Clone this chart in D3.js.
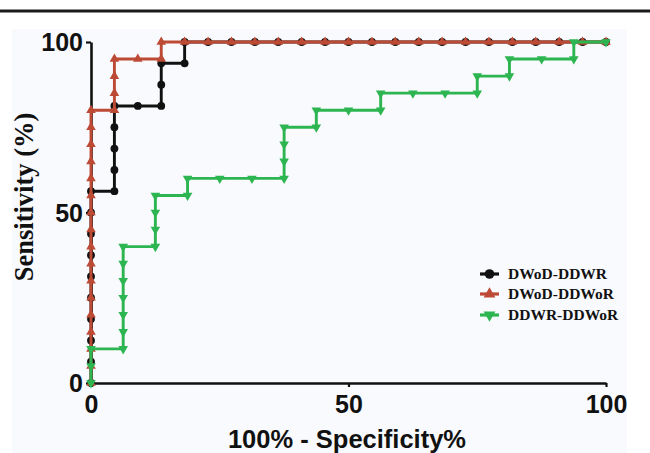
<!DOCTYPE html>
<html>
<head>
<meta charset="utf-8">
<script src="https://cdn.jsdelivr.net/npm/d3@7"></script>
<style>
  html, body { margin: 0; padding: 0; background: #ffffff; }
  svg { display: block; }
</style>
</head>
<body>
<svg id="chart" width="650" height="453"></svg>
<script>
// ---- Data ----
const xTicks = [0, 50, 100];
const yTicks = [0, 50, 100];

const seriesNames = ["DWoD-DDWR", "DWoD-DDWoR", "DDWR-DDWoR"];

// DWoD-DDWR (black circles)
const blackX = [0, 0, 0, 0, 0, 0, 0, 0, 0, 0,
  4.545, 4.545, 4.545, 4.545, 4.545,
  9.091,
  13.64, 13.64, 13.64,
  18.18, 18.18,
  22.73, 27.27, 31.82, 36.36, 40.91, 45.45, 50, 54.55, 59.09, 63.64,
  68.18, 72.73, 77.27, 81.82, 86.36, 90.91, 95.45, 100];
const blackY = [0, 6.25, 12.5, 18.75, 25, 31.25, 37.5, 43.75, 50, 56.25,
  56.25, 62.5, 68.75, 75, 81.25,
  81.25,
  81.25, 87.5, 93.75,
  93.75, 100,
  100, 100, 100, 100, 100, 100, 100, 100, 100, 100,
  100, 100, 100, 100, 100, 100, 100, 100];

// DWoD-DDWoR (red triangles)
const redX = [0, 0, 0, 0, 0, 0, 0, 0, 0, 0, 0, 0, 0, 0, 0, 0, 0,
  4.545, 4.545, 4.545, 4.545,
  9.091,
  13.64, 13.64,
  18.18, 22.73, 27.27, 31.82, 36.36, 40.91, 45.45, 50, 54.55, 59.09, 63.64,
  68.18, 72.73, 77.27, 81.82, 86.36, 90.91, 95.45, 100];
const redY = [0, 5, 10, 15, 20, 25, 30, 35, 40, 45, 50, 55, 60, 65, 70, 75, 80,
  80, 85, 90, 95,
  95,
  95, 100,
  100, 100, 100, 100, 100, 100, 100, 100, 100, 100, 100,
  100, 100, 100, 100, 100, 100, 100, 100];

// DDWR-DDWoR (green inverted triangles)
const greenX = [0, 0, 0,
  6.25, 6.25, 6.25, 6.25, 6.25, 6.25, 6.25,
  12.5, 12.5, 12.5, 12.5,
  18.75, 18.75,
  25, 31.25,
  37.5, 37.5, 37.5, 37.5,
  43.75, 43.75,
  50,
  56.25, 56.25,
  62.5, 68.75,
  75, 75,
  81.25, 81.25,
  87.5,
  93.75, 93.75,
  100];
const greenY = [0, 5, 10,
  10, 15, 20, 25, 30, 35, 40,
  40, 45, 50, 55,
  55, 60,
  60, 60,
  60, 65, 70, 75,
  75, 80,
  80,
  80, 85,
  85, 85,
  85, 90,
  90, 95,
  95,
  95, 100,
  100];

// ---- Drawing ----
const svg = d3.select("#chart");
const W = 650, H = 453;

// background panel and top rule
svg.append("rect").attr("x", 12).attr("y", 29).attr("width", 615).attr("height", H - 29)
  .attr("fill", "#f9fafd");
svg.append("line").attr("x1", 0).attr("x2", W).attr("y1", 11).attr("y2", 11)
  .attr("stroke", "#1a1a1a").attr("stroke-width", 3);

const x = d3.scaleLinear().domain([0, 100]).range([91, 606]);
const y = d3.scaleLinear().domain([0, 100]).range([383, 42]);

const series = [
  { name: seriesNames[0], xs: blackX, ys: blackY, color: "#111111", marker: "circle" },
  { name: seriesNames[1], xs: redX, ys: redY, color: "#bd4a35", marker: "up" },
  { name: seriesNames[2], xs: greenX, ys: greenY, color: "#2cb551", marker: "down" }
];

function markerPath(kind, big) {
  const k = big ? 1.5 : 1;
  if (kind === "circle") return d3.symbol().type(d3.symbolCircle).size(48 * k)();
  return d3.symbol().type(d3.symbolTriangle).size(40 * k)();
}
function markerTransform(kind, px, py) {
  return kind === "down" ? `translate(${px},${py}) rotate(180)` : `translate(${px},${py})`;
}

// axes
const xAxis = d3.axisBottom(x).tickValues(xTicks).tickSize(4).tickSizeOuter(0).tickFormat(d3.format("d"));
const yAxis = d3.axisLeft(y).tickValues(yTicks).tickSize(5).tickSizeOuter(0).tickFormat(d3.format("d"));

const gx = svg.append("g").attr("transform", `translate(0,${y(0)})`).call(xAxis);
const gy = svg.append("g").attr("transform", `translate(${x(0)},0)`).call(yAxis);

[gx, gy].forEach(g => {
  g.select(".domain").attr("stroke", "#111").attr("stroke-width", 2.6);
  g.selectAll(".tick line").attr("stroke", "#111").attr("stroke-width", 2.2);
  g.selectAll(".tick text")
    .attr("fill", "#111")
    .style("font-family", "'Liberation Sans', Arial, sans-serif")
    .style("font-weight", "bold")
    .style("font-size", "25px");
});
gx.selectAll(".tick text").attr("y", 30).attr("dy", 0);
gy.selectAll(".tick text").attr("x", -8).attr("dy", "0.35em");

// series lines + markers
const line = d3.line().x(d => x(d[0])).y(d => y(d[1]));
series.forEach(s => {
  const pts = s.xs.map((v, i) => [v, s.ys[i]]);
  svg.append("path").datum(pts)
    .attr("d", line)
    .attr("fill", "none")
    .attr("stroke", s.color)
    .attr("stroke-width", 2.9)
    .attr("stroke-linejoin", "miter");
  svg.append("g").selectAll("path").data(pts).join("path")
    .attr("d", markerPath(s.marker))
    .attr("transform", d => markerTransform(s.marker, x(d[0]), y(d[1])))
    .attr("fill", s.color);
});

// axis titles
svg.append("text")
  .attr("x", 347).attr("y", 448)
  .attr("text-anchor", "middle")
  .style("font-family", "'Liberation Sans', Arial, sans-serif")
  .style("font-weight", "bold").style("font-size", "25.5px")
  .attr("fill", "#111")
  .text("100% - Specificity%");

svg.append("text")
  .attr("transform", "translate(33,197) rotate(-90)")
  .attr("text-anchor", "middle")
  .style("font-family", "'Liberation Serif', 'Times New Roman', serif")
  .style("font-weight", "bold").style("font-size", "26.5px")
  .attr("fill", "#111")
  .text("Sensitivity (%)");

// legend
const legY = [274, 294, 315];
const leg = svg.append("g");
series.forEach((s, i) => {
  const g = leg.append("g");
  g.append("line").attr("x1", 480).attr("x2", 499).attr("y1", legY[i]).attr("y2", legY[i])
    .attr("stroke", s.color).attr("stroke-width", 3.2);
  g.append("path").attr("d", markerPath(s.marker, true))
    .attr("transform", markerTransform(s.marker, 489.5, legY[i]))
    .attr("fill", s.color);
  g.append("text").attr("x", 508).attr("y", legY[i] + 5)
    .style("font-family", "'Liberation Serif', 'Times New Roman', serif")
    .style("font-weight", "bold").style("font-size", "15.5px")
    .attr("fill", "#111")
    .text(s.name);
});
</script>
</body>
</html>
